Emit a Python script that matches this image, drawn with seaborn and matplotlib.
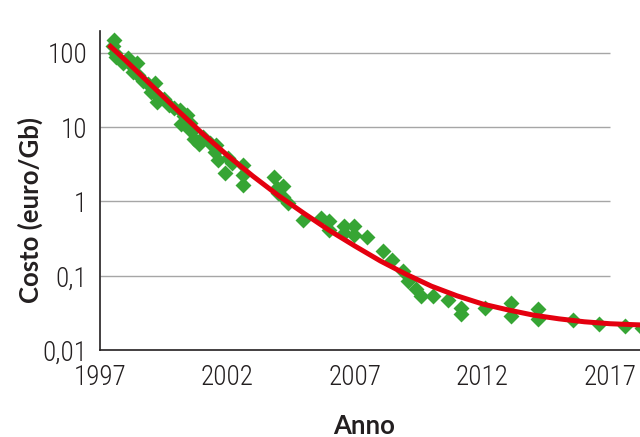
# ================================= Import Libraries =================================

import matplotlib
matplotlib.use("Agg")
import matplotlib.pyplot as plt
import seaborn as sns
from matplotlib import font_manager
from matplotlib.font_manager import FontProperties
from matplotlib.ticker import FixedLocator, FixedFormatter, NullLocator

# ================================= Data =================================

# Osservazioni: anno e costo (euro/Gb)
anni = [1997.55, 1997.5, 1997.6, 1997.65, 1997.9, 1998.1, 1998.2, 1998.45, 1998.3, 1998.5,
        1998.7, 1998.9, 1999.15, 1999.0, 1999.3, 1999.25, 1999.5, 1999.7, 1999.9, 2000.15,
        2000.3, 2000.43, 2000.2, 2000.54, 2000.5, 2000.66, 2000.7, 2000.9, 2001.05, 2001.33,
        2001.55, 2001.53, 2001.65, 2001.92, 2002.04, 2002.2, 2002.63, 2002.63, 2002.63, 2003.81,
        2003.95, 2003.97, 2004.17, 2004.2, 2004.36, 2004.95, 2005.66, 2005.98, 2005.98, 2006.57,
        2006.96, 2006.57, 2006.96, 2007.47, 2008.1, 2008.46, 2008.89, 2009.09, 2009.4, 2009.6,
        2010.07, 2010.66, 2011.17, 2011.17, 2012.12, 2013.14, 2013.14, 2014.17, 2014.17, 2015.54,
        2016.57, 2017.59, 2018.26]
costo = [150, 125, 100, 88, 73, 85, 70, 72, 55, 50,
         42, 38, 39, 30, 26, 22, 24, 20, 18, 17,
         14, 14.5, 11, 11.5, 9.5, 9, 7, 6, 7.4, 6.1,
         5.8, 4.6, 3.6, 2.4, 3.8, 3.3, 3.1, 2.3, 1.65, 2.1,
         1.5, 1.3, 1.6, 1.15, 0.95, 0.56, 0.59, 0.55, 0.41, 0.47,
         0.46, 0.38, 0.35, 0.336, 0.218, 0.164, 0.117, 0.086, 0.067, 0.054,
         0.054, 0.047, 0.037, 0.031, 0.037, 0.043, 0.029, 0.036, 0.026, 0.025,
         0.0225, 0.021, 0.020]

# Linea di tendenza
trend_anni = [1997.35, 1998, 1999, 2000, 2001, 2002, 2003, 2004, 2005, 2006, 2007, 2008,
              2009, 2010, 2011, 2012, 2013, 2014, 2015, 2016, 2017, 2018, 2018.5]
trend_costo = [128, 79.4, 37.2, 17.4, 8.32, 4.17, 2.19, 1.20, 0.692, 0.407, 0.251, 0.158,
               0.105, 0.0724, 0.0537, 0.0417, 0.0347, 0.0295, 0.0263, 0.0240, 0.0226, 0.0219, 0.0216]

x_ticks = [1997, 2002, 2007, 2012, 2017]
y_ticks = [0.01, 0.1, 1, 10, 100]
y_labels = ["0,01", "0,1", "1", "10", "100"]
grid_levels = [0.1, 1, 10, 100]

# ================================= Plot =================================

sns.set_style("white")
plt.rcParams["font.family"] = ["Lato", "DejaVu Sans"]
text_col = "#231f20"

# narrow font for the tick numbers, if one is there
names = {f.name for f in font_manager.fontManager.ttflist}
narrow = [n for n in ["Roboto Condensed", "Open Sans Condensed", "Liberation Sans Narrow"]
          if n in names]
tick_fp = FontProperties(family=narrow + ["DejaVu Sans"], stretch="condensed", weight="light",
                         size=19.5 if narrow else 16)
label_fp = FontProperties(family=["Lato", "DejaVu Sans"], stretch="normal", weight="bold", size=18.5)

fig = plt.figure(figsize=(6.4, 4.37), dpi=100)
ax = fig.add_axes([0.156, 0.199, 0.844, 0.73])
ax.set_yscale("log")

# grid lines (stop at 2017 like in the original)
ax.hlines(grid_levels, 1997, 2017, color="#a6a6a6", linewidth=1, zorder=0)

sns.scatterplot(x=anni, y=costo, marker="D", s=66, color="#36a534", linewidth=0, ax=ax, zorder=2)
sns.lineplot(x=trend_anni, y=trend_costo, color="#e4000f", linewidth=3.6, ax=ax, zorder=3,
             solid_capstyle="butt")

ax.set_xlim(1997, 2018.18)
ax.set_ylim(0.01, 196)

ax.xaxis.set_major_locator(FixedLocator(x_ticks))
ax.yaxis.set_major_locator(FixedLocator(y_ticks))
ax.yaxis.set_major_formatter(FixedFormatter(y_labels))
ax.yaxis.set_minor_locator(NullLocator())
ax.xaxis.set_minor_locator(NullLocator())

for lab in ax.get_xticklabels() + ax.get_yticklabels():
    lab.set_fontproperties(tick_fp)
    lab.set_color(text_col)

ax.tick_params(axis="both", direction="out", length=6, width=1, color=text_col)
ax.tick_params(axis="x", pad=4)
ax.tick_params(axis="y", pad=3)

for side in ["top", "right"]:
    ax.spines[side].set_visible(False)
for side in ["left", "bottom"]:
    ax.spines[side].set_color(text_col)
    ax.spines[side].set_linewidth(1.2)

ax.set_xlabel("Anno", fontproperties=label_fp, color=text_col)
ax.set_ylabel("Costo (euro/Gb)", fontproperties=label_fp, color=text_col)
ax.xaxis.set_label_coords(0.49, -0.2)
ax.yaxis.set_label_coords(-0.106, 0.44)

plt.savefig("out.png", dpi=100)
